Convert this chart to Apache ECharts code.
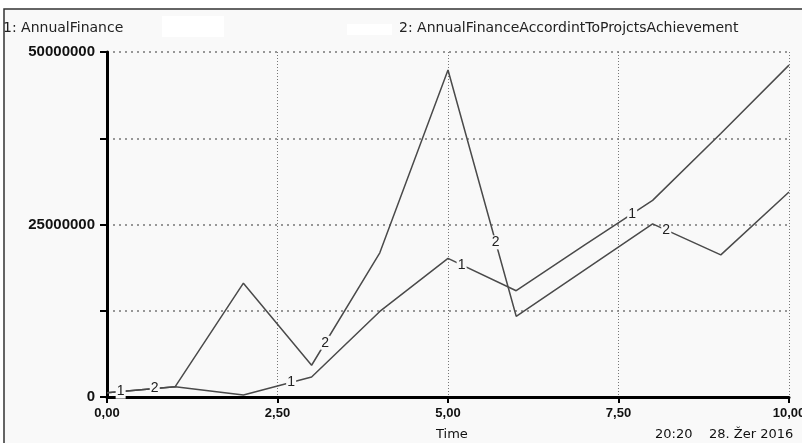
<!DOCTYPE html>
<html>
<head>
<meta charset="utf-8">
<script src="https://cdn.jsdelivr.net/npm/echarts@6/dist/echarts.min.js"></script>
<style>
  html, body { margin: 0; padding: 0; background: #fff; }
  #chart { width: 802px; height: 443px; }
</style>
</head>
<body>
<div id="chart"></div>
<script>
// time axis (years)
const times = [0, 1, 2, 3, 4, 5, 6, 7, 8, 9, 10]
// 1: AnnualFinance
const annualFinance = [600000, 1500000, 300000, 2900000, 12400000, 20100000, 15400000, 22000000, 28500000, 38200000, 48100000]
// 2: AnnualFinanceAccordintToProjctsAchievement
const financeByAchievement = [600000, 1500000, 16500000, 4600000, 20900000, 47400000, 11700000, 18400000, 25100000, 20600000, 29700000]
// where the series numbers are written along each line
const labelTimes1 = [0.2, 2.7, 5.2, 7.7]
const labelTimes2 = [0.7, 3.2, 5.7, 8.2]

const plotBg = '#f9f9f9'
const lineColor = '#4a4a4a'
const font = 'Liberation Sans'
const wideFont = 'DejaVu Sans'

function pairs (ys) {
  return times.map((t, i) => [t, ys[i]])
}

// position of a label on the drawn line
function onLine (ys, t) {
  const i = Math.min(Math.floor(t), times.length - 2)
  const f = t - times[i]
  return ys[i] + (ys[i + 1] - ys[i]) * f
}

function numberMarks (ys, ts, txt) {
  return {
    symbol: 'rect',
    symbolSize: [10, 14],
    itemStyle: { color: plotBg },
    label: {
      show: true,
      position: 'inside',
      formatter: txt,
      color: '#222',
      fontSize: 14,
      fontFamily: font
    },
    data: ts.map(t => ({ coord: [t, onLine(ys, t)] }))
  }
}

const chart = echarts.init(document.getElementById('chart'))
const option = {
  animation: false,
  backgroundColor: '#fff',
  textStyle: { fontFamily: font },
  graphic: [
    { type: 'rect', z: -10, shape: { x: 4, y: 9, width: 810, height: 450 },
      style: { fill: plotBg, stroke: '#333', lineWidth: 1.5 } },
    { type: 'rect', z: -9, shape: { x: 162, y: 16, width: 62, height: 21 }, style: { fill: '#fff' } },
    { type: 'rect', z: -9, shape: { x: 347, y: 24, width: 45, height: 11 }, style: { fill: '#fff' } },
    { type: 'text', left: 3, top: 21,
      style: { text: '1: AnnualFinance', fontSize: 14, fill: '#222', fontFamily: wideFont } },
    { type: 'text', left: 399, top: 21,
      style: { text: '2: AnnualFinanceAccordintToProjctsAchievement', fontSize: 14, fill: '#222', fontFamily: wideFont } },
    { type: 'text', left: 436, top: 428,
      style: { text: 'Time', fontSize: 13, fill: '#111', fontFamily: wideFont } },
    { type: 'text', left: 655, top: 428,
      style: { text: '20:20', fontSize: 13, fill: '#111', fontFamily: wideFont } },
    { type: 'text', left: 709, top: 428,
      style: { text: '28. Žer 2016', fontSize: 13, fill: '#111', fontFamily: wideFont } }
  ],
  grid: { left: 107, right: 13, top: 52, bottom: 46, outerBoundsMode: 'none' },
  xAxis: {
    type: 'value',
    min: 0,
    max: 10,
    interval: 2.5,
    axisLine: { show: true, lineStyle: { color: '#000', width: 3 } },
    axisTick: { show: true, length: 6, lineStyle: { color: '#000', width: 2 } },
    axisLabel: {
      color: '#111',
      fontSize: 13,
      fontWeight: 'bold',
      margin: 10,
      hideOverlap: false,
      formatter: v => v.toFixed(2).replace('.', ',')
    },
    splitLine: { show: true, lineStyle: { color: '#777', type: [1, 2], width: 1 } }
  },
  yAxis: {
    type: 'value',
    min: 0,
    max: 50000000,
    interval: 12500000,
    axisLine: { show: true, onZero: false, lineStyle: { color: '#000', width: 3 } },
    axisTick: { show: true, length: 7, lineStyle: { color: '#000', width: 2 } },
    axisLabel: {
      color: '#111',
      fontSize: 15,
      fontWeight: 'bold',
      margin: 12,
      formatter: v => (v % 25000000 === 0 ? String(v) : '')
    },
    splitLine: { show: true, lineStyle: { color: '#777', type: [2, 4], width: 1.5 } }
  },
  series: [
    {
      name: 'AnnualFinance',
      type: 'line',
      data: pairs(annualFinance),
      showSymbol: false,
      lineStyle: { color: lineColor, width: 1.5 },
      markPoint: numberMarks(annualFinance, labelTimes1, '1')
    },
    {
      name: 'AnnualFinanceAccordintToProjctsAchievement',
      type: 'line',
      data: pairs(financeByAchievement),
      showSymbol: false,
      lineStyle: { color: lineColor, width: 1.5 },
      markPoint: numberMarks(financeByAchievement, labelTimes2, '2')
    }
  ]
}
chart.setOption(option)
</script>
</body>
</html>
